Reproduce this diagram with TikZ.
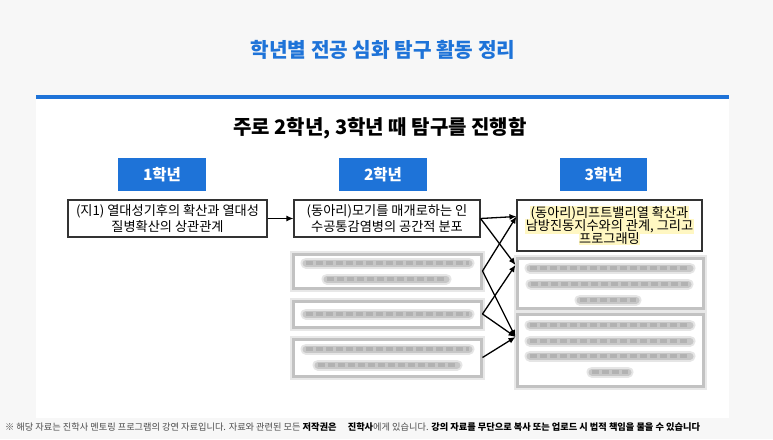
\documentclass[tikz,border=0pt]{standalone}
\usepackage{fontspec}
\setmainfont{Noto Sans CJK KR}
\usetikzlibrary{arrows.meta,calc}

\definecolor{pagebg}{HTML}{F7F7F7}
\definecolor{mainblue}{HTML}{1E73D8}
\definecolor{hlyellow}{HTML}{FFF7C2}

% highlighted line of text
\newcommand{\hlline}[1]{{\setlength{\fboxsep}{0.6pt}\colorbox{hlyellow}{#1}}}
% one blurred line of text
\newcommand{\hazyline}[3]{%
  \draw[black!10, line width=11pt, line cap=round] (#1,#3) -- (#2,#3);
  \draw[black!22, line width=7pt, line cap=round] (#1,#3) -- (#2,#3);
  \draw[black!30, line width=4pt, dash pattern=on 7pt off 3pt] (#1,#3) -- (#2,#3);}

\tikzset{
  gradebox/.style={fill=mainblue, text=white, font=\bfseries\fontsize{15.5}{18}\selectfont,
    minimum width=88pt, minimum height=33pt, inner sep=0pt},
  topicbox/.style={draw=black!80, line width=1.1pt, fill=white, align=center,
    font=\fontsize{13.2}{15.5}\selectfont, inner sep=0pt},
  hazybox/.style={draw=black!24, line width=3pt, fill=white, inner sep=0pt,
    preaction={draw=black!9, line width=7pt}},
  link/.style={-{Latex[length=7pt,width=6pt]}, line width=1.3pt},
}

\begin{document}
\begin{tikzpicture}[x=1pt,y=-1pt]
  \useasboundingbox (0,0) rectangle (773,439);
  \fill[pagebg] (0,0) rectangle (773,439);
  \fill[white] (36,99) rectangle (729,418);
  \fill[mainblue] (36,95) rectangle (729,99);

  \node[text=mainblue, font=\bfseries\fontsize{20.2}{24}\selectfont] (title) at (383,50) {학년별 전공 심화 탐구 활동 정리};
  \node[font=\bfseries\fontsize{20}{24}\selectfont] (summary) at (380,128) {주로 2학년, 3학년 때 탐구를 진행함};

  % grade headers
  \node[gradebox] (g1) at (162,174.5) {1학년};
  \node[gradebox] (g2) at (383,174.5) {2학년};
  \node[gradebox, minimum width=87pt] (g3) at (603.5,174.5) {3학년};

  % readable topics
  \node[topicbox, minimum width=199pt, minimum height=37pt] (t1) at (167.5,218.5)
    {(지1) 열대성기후의 확산과 열대성\\질병확산의 상관관계};
  \node[topicbox, minimum width=186pt, minimum height=37pt] (t2) at (387,218.5)
    {(동아리)모기를 매개로하는 인\\수공통감염병의 공간적 분포};
  \node[topicbox, minimum width=185pt, minimum height=51pt] (t3) at (609.5,225.5)
    {\hlline{(동아리)리프트밸리열 확산과}\\[-2.5pt]\hlline{남방진동지수와의 관계, 그리고}\\[-2.5pt]\hlline{프로그래밍}};

  % blurred topics
  \node[hazybox, minimum width=188pt, minimum height=34pt] (b2a) at (387,271) {};
  \node[hazybox, minimum width=188pt, minimum height=26pt] (b2b) at (387,314) {};
  \node[hazybox, minimum width=188pt, minimum height=37pt] (b2c) at (387,357.5) {};
  \node[hazybox, minimum width=186pt, minimum height=50pt] (b3a) at (610,283) {};
  \node[hazybox, minimum width=186pt, minimum height=72pt] (b3b) at (610,350) {};

  \hazyline{306}{469}{263}
  \hazyline{327}{446}{279}
  \hazyline{306}{469}{314}
  \hazyline{306}{469}{349}
  \hazyline{318}{457}{365}
  \hazyline{530}{690}{268}
  \hazyline{531}{688}{284}
  \hazyline{580}{636}{300}
  \hazyline{530}{690}{325}
  \hazyline{530}{690}{341}
  \hazyline{530}{690}{356}
  \hazyline{592}{628}{372}

  % links
  \coordinate (in3a) at ([yshift=9pt]t3.west);
  \coordinate (in3b) at ([yshift=18pt]b3a.west);
  \coordinate (in3c) at ([yshift=13pt]b3b.west);
  \draw[link] (t1) -- (t2);
  \draw[link] (t2.east) -- (in3a);
  \draw[link] (t2.east) -- (in3b);
  \draw[link] (b2a.east) -- (in3a);
  \draw[link] (b2a.east) -- (in3c);
  \draw[link] (b2b.east) -- (in3b);
  \draw[link] (b2b.east) -- (in3c);
  \draw[link] (b2c.east) -- (in3c);

  \node[anchor=west, inner sep=0pt, text=black!70, font=\fontsize{9.2}{11}\selectfont] (note) at (5,427)
    {※ 해당 자료는 진학사 멘토링 프로그램의 강연 자료입니다. 자료와 관련된 모든 {\bfseries\color{black}저작권은}\quad\ {\bfseries\color{black}진학사}에게 있습니다. {\bfseries\color{black}강의 자료를 무단으로 복사 또는 업로드 시 법적 책임을 물을 수 있습니다}};
\end{tikzpicture}
\end{document}
